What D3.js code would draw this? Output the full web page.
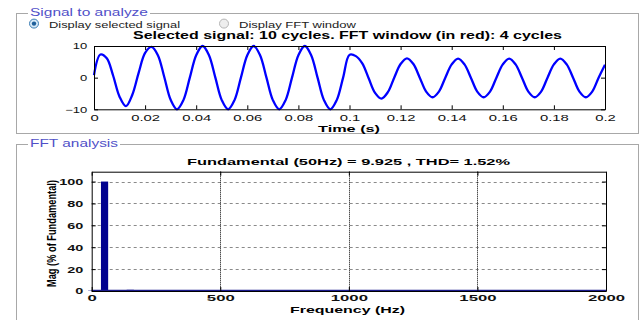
<!DOCTYPE html>
<html>
<head>
<meta charset="utf-8">
<script src="https://cdn.jsdelivr.net/npm/d3@7"></script>
<style>
  body { margin: 0; background: #fff; }
  svg { display: block; font-family: "Liberation Sans", Arial, sans-serif; }
  .frame { fill: none; stroke: #a8a8a8; }
  .frame-hi { fill: none; stroke: #fff; }
  .group-title { fill: #5050c8; font-size: 10px; }
  .radio-label { fill: #222; font-size: 9px; }
  .title { font-weight: bold; font-size: 9.5px; fill: #000; }
  .tick-top { font-size: 9px; fill: #111; }
  .tick-bot { font-size: 9.3px; font-weight: bold; fill: #111; }
</style>
</head>
<body>
<svg id="chart" width="644" height="320"></svg>
<script>
// data
const tStep = 0.0025;               // sampling of the read values (s)
const signalValues = [
   0.8,  7.3,  6.1,  0.6, -6.0, -9.0, -5.4,  1.6,
   7.8,  9.7,  7.1,  0.2, -7.0,-10.0, -7.1,  0.0,
   7.1, 10.0,  7.1,  0.0, -7.1,-10.0, -7.1,  0.0,
   7.1, 10.0,  7.1,  0.0, -7.1,-10.0, -7.1,  0.0,
   7.1, 10.0,  7.1,  0.0, -7.1,-10.0, -7.1,  0.0,
   7.2,  6.8,  4.5, -0.2, -4.8, -6.6, -4.6,  0.0,
   4.3,  6.1,  4.3,  0.0, -4.4, -6.2, -4.4,  0.0,
   4.2,  6.0,  4.2,  0.0, -4.4, -6.2, -4.4,  0.0,
   4.2,  6.0,  4.2,  0.0, -4.4, -6.2, -4.4,  0.0,
   4.2,  6.0,  4.2,  0.0, -4.4, -6.2, -4.4,  0.0,
   4.1
];
const timeTicks = [0, 0.02, 0.04, 0.06, 0.08, 0.1, 0.12, 0.14, 0.16, 0.18, 0.2];
const signalTicks = [-10, 0, 10];

const fftFreqs = [0, 50, 100, 150, 250, 350, 450];
const fftMags  = [0.3, 100, 0.5, 1.1, 0.7, 0.4, 0.3];
const freqTicks = [0, 500, 1000, 1500, 2000];
const magTicks = [0, 20, 40, 60, 80, 100];

const svg = d3.select("#chart");

// group boxes (etched frames)
function groupBox(x, y, w, h, title, titleW) {
    svg.append("rect").attr("class", "frame-hi")
        .attr("x", x + 1.5).attr("y", y + 1.5).attr("width", w).attr("height", h);
    svg.append("rect").attr("class", "frame")
        .attr("x", x + 0.5).attr("y", y + 0.5).attr("width", w).attr("height", h);
    svg.append("rect").attr("fill", "#fff")
        .attr("x", x + 12).attr("y", y - 5).attr("width", titleW + 4).attr("height", 10);
    svg.append("text").attr("class", "group-title")
        .attr("x", x + 14).attr("y", y + 2.7)
        .attr("textLength", titleW).attr("lengthAdjust", "spacingAndGlyphs")
        .text(title);
}
groupBox(16, 13, 622, 120, "Signal to analyze", 118);
groupBox(16, 144, 622, 200, "FFT analysis", 88);

// radio buttons
function radio(cx, cy, on, label, labelW) {
    svg.append("circle").attr("cx", cx).attr("cy", cy).attr("r", 4.5)
        .attr("fill", on ? "#d6e9f7" : "#eee").attr("stroke", on ? "#3d7fb5" : "#b5b5b5");
    if (on) svg.append("circle").attr("cx", cx).attr("cy", cy).attr("r", 2.2).attr("fill", "#1e5f9a");
    svg.append("text").attr("class", "radio-label")
        .attr("x", cx + 15).attr("y", cy + 4.6)
        .attr("textLength", labelW).attr("lengthAdjust", "spacingAndGlyphs")
        .text(label);
}
radio(34, 23.6, true, "Display selected signal", 131);
radio(224, 23.6, false, "Display FFT window", 117);

// ---- top axes: signal ----
const xT = d3.scaleLinear().domain([0, 0.2]).range([94, 605]);
const yT = d3.scaleLinear().domain([-10, 10]).range([109.3, 46]);

const sigPanel = svg.append("g");
sigPanel.append("text").attr("class", "title")
    .attr("x", 347.5).attr("y", 38.5).attr("text-anchor", "middle")
    .style("font-size", "10px")
    .attr("textLength", 429).attr("lengthAdjust", "spacingAndGlyphs")
    .text("Selected signal: 10 cycles. FFT window (in red): 4 cycles");

const sig = signalValues.map((v, i) => ({ t: i * tStep, v }));
sigPanel.append("path")
    .datum(sig)
    .attr("fill", "none")
    .attr("stroke", "#0000ff")
    .attr("stroke-width", 2.3)
    .attr("stroke-linejoin", "round")
    .attr("d", d3.line().x(d => xT(d.t)).y(d => yT(d.v)).curve(d3.curveCatmullRom));

sigPanel.append("g").attr("transform", `translate(0,${yT.range()[0]})`)
    .call(d3.axisBottom(xT).tickValues(timeTicks).tickSizeInner(-4).tickSizeOuter(0)
        .tickPadding(5.3).tickFormat(d3.format("~g")))
    .call(g => g.selectAll("text").attr("class", "tick-top").attr("transform", "scale(1.65,1)"));
sigPanel.append("g").attr("transform", `translate(0,${yT.range()[1]})`)
    .call(d3.axisTop(xT).tickValues(timeTicks).tickSizeInner(-4).tickSizeOuter(0).tickFormat(""));
sigPanel.append("g").attr("transform", `translate(${xT.range()[0]},0)`)
    .call(d3.axisLeft(yT).tickValues(signalTicks).tickSizeInner(-4).tickSizeOuter(0).tickPadding(4.6))
    .call(g => g.selectAll("text").attr("class", "tick-top").attr("transform", "scale(1.45,1)"));
sigPanel.append("g").attr("transform", `translate(${xT.range()[1]},0)`)
    .call(d3.axisRight(yT).tickValues(signalTicks).tickSizeInner(-4).tickSizeOuter(0).tickFormat(""));
sigPanel.selectAll(".domain").attr("stroke", "#000");
sigPanel.append("text").attr("class", "title")
    .attr("x", 349).attr("y", 131.5).attr("text-anchor", "middle")
    .attr("textLength", 62).attr("lengthAdjust", "spacingAndGlyphs")
    .text("Time (s)");

// ---- bottom axes: FFT ----
const xF = d3.scaleLinear().domain([0, 2000]).range([91.7, 606]);
const yF = d3.scaleLinear().domain([0, 109]).range([291, 171.7]);
const barW = 28; // Hz

const fftPanel = svg.append("g");
fftPanel.append("text").attr("class", "title")
    .attr("x", 348.5).attr("y", 165).attr("text-anchor", "middle")
    .attr("textLength", 323).attr("lengthAdjust", "spacingAndGlyphs")
    .text("Fundamental (50Hz) = 9.925 , THD= 1.52%");

// grid
fftPanel.append("g").selectAll("line").data(magTicks.filter(d => d > 0)).join("line")
    .attr("x1", xF.range()[0]).attr("x2", xF.range()[1])
    .attr("y1", d => Math.round(yF(d)) + 0.5).attr("y2", d => Math.round(yF(d)) + 0.5)
    .attr("stroke", "#8a8a8a").attr("stroke-dasharray", "3,3");
fftPanel.append("g").selectAll("line").data(freqTicks.filter(d => d > 0 && d < 2000)).join("line")
    .attr("x1", d => Math.round(xF(d)) + 0.5).attr("x2", d => Math.round(xF(d)) + 0.5)
    .attr("y1", yF.range()[1]).attr("y2", yF.range()[0])
    .attr("stroke", "#000").attr("stroke-dasharray", "1,1");

// bars
fftPanel.append("g").selectAll("rect").data(fftFreqs.map((f, i) => ({ f, m: fftMags[i] }))).join("rect")
    .attr("x", d => xF(d.f - barW / 2))
    .attr("width", d => xF(barW) - xF(0))
    .attr("y", d => yF(d.m))
    .attr("height", d => yF(0) - yF(d.m))
    .attr("fill", "#00008f");
fftPanel.append("line")
    .attr("x1", xF(0)).attr("x2", xF(2000))
    .attr("y1", yF(0) - 0.5).attr("y2", yF(0) - 0.5)
    .attr("stroke", "#1a1a8c").attr("stroke-width", 1.6);

fftPanel.append("g").attr("transform", `translate(0,${yF.range()[0]})`)
    .call(d3.axisBottom(xF).tickValues(freqTicks).tickSizeInner(-4).tickSizeOuter(0)
        .tickPadding(3.9).tickFormat(d3.format("d")))
    .call(g => g.selectAll("text").attr("class", "tick-bot").attr("transform", "scale(1.8,1)"));
fftPanel.append("g").attr("transform", `translate(0,${yF.range()[1]})`)
    .call(d3.axisTop(xF).tickValues(freqTicks).tickSizeInner(-4).tickSizeOuter(0).tickFormat(""));
fftPanel.append("g").attr("transform", `translate(${xF.range()[0]},0)`)
    .call(d3.axisLeft(yF).tickValues(magTicks).tickSizeInner(-4).tickSizeOuter(0).tickPadding(5.4))
    .call(g => g.selectAll("text").attr("class", "tick-bot").attr("transform", "scale(1.55,1)"));
fftPanel.append("g").attr("transform", `translate(${xF.range()[1]},0)`)
    .call(d3.axisRight(yF).tickValues(magTicks).tickSizeInner(-4).tickSizeOuter(0).tickFormat(""));
fftPanel.selectAll(".domain").attr("stroke", "#000");
fftPanel.append("text").attr("class", "title")
    .attr("x", 347.5).attr("y", 313.3).attr("text-anchor", "middle")
    .attr("textLength", 115).attr("lengthAdjust", "spacingAndGlyphs")
    .text("Frequency (Hz)");
fftPanel.append("text").attr("class", "title")
    .attr("transform", "translate(56,233.5) rotate(-90)")
    .attr("text-anchor", "middle").style("font-size", "13.5px")
    .attr("textLength", 107).attr("lengthAdjust", "spacingAndGlyphs")
    .text("Mag (% of Fundamental)");
</script>
</body>
</html>
